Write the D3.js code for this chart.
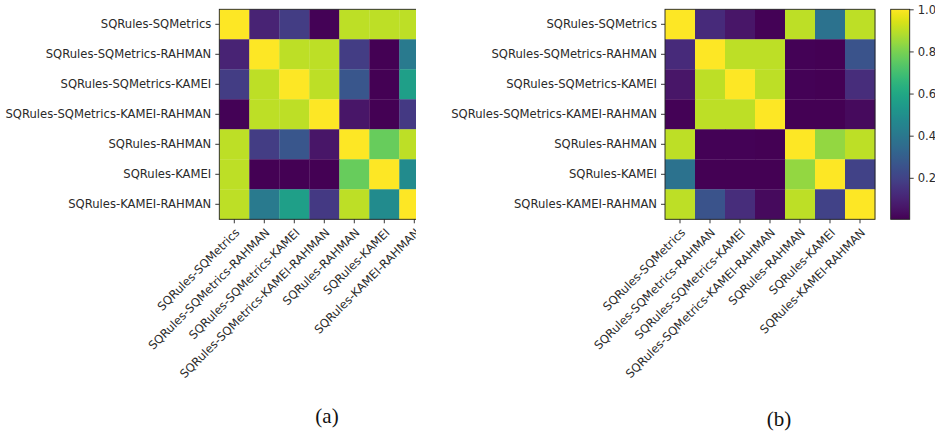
<!DOCTYPE html>
<html>
<head>
<meta charset="utf-8">
<script src="https://cdn.jsdelivr.net/npm/d3@7"></script>
<style>
  body { margin: 0; background: #fff; }
  text { font-family: "DejaVu Sans", sans-serif; }
</style>
</head>
<body>
<svg id="fig" width="935" height="434"></svg>
<script>
// Rule-set combinations compared in both matrices
const categories = [
  "SQRules-SQMetrics",
  "SQRules-SQMetrics-RAHMAN",
  "SQRules-SQMetrics-KAMEI",
  "SQRules-SQMetrics-KAMEI-RAHMAN",
  "SQRules-RAHMAN",
  "SQRules-KAMEI",
  "SQRules-KAMEI-RAHMAN"
];

// Pairwise similarity, panel (a)
const similarityA = [
  [1.00, 0.10, 0.18, 0.01, 0.90, 0.90, 0.90],
  [0.10, 1.00, 0.90, 0.90, 0.18, 0.003, 0.41],
  [0.18, 0.90, 1.00, 0.90, 0.27, 0.003, 0.56],
  [0.01, 0.90, 0.90, 1.00, 0.06, 0.003, 0.17],
  [0.90, 0.18, 0.27, 0.06, 1.00, 0.77, 0.90],
  [0.90, 0.003, 0.003, 0.003, 0.77, 1.00, 0.48],
  [0.90, 0.41, 0.56, 0.17, 0.90, 0.48, 1.00]
];

// Pairwise similarity, panel (b)
const similarityB = [
  [1.00, 0.12, 0.06, 0.01, 0.90, 0.38, 0.90],
  [0.12, 1.00, 0.90, 0.90, 0.01, 0.003, 0.26],
  [0.06, 0.90, 1.00, 0.90, 0.01, 0.003, 0.13],
  [0.01, 0.90, 0.90, 1.00, 0.003, 0.003, 0.03],
  [0.90, 0.01, 0.01, 0.003, 1.00, 0.84, 0.90],
  [0.38, 0.003, 0.003, 0.003, 0.84, 1.00, 0.20],
  [0.90, 0.26, 0.13, 0.03, 0.90, 0.20, 1.00]
];

const colorbarTicks = [0.2, 0.4, 0.6, 0.8, 1.0];
const captions = ["(a)", "(b)"];

const svg = d3.select("#fig");
const FONT = 11.6;
const cell = 30;
const gridTop = 9.3;

// left panel is cut at its right edge
const defs = svg.append("defs");
defs.append("clipPath").attr("id", "clipA")
  .append("rect").attr("x", 0).attr("y", 0).attr("width", 416).attr("height", 434);

function heatmap(g, data, x0) {
  const x = d3.scaleBand().domain(categories).range([x0, x0 + cell * categories.length]);
  const y = d3.scaleBand().domain(categories).range([gridTop, gridTop + cell * categories.length]);
  const flat = data.flat();
  const color = d3.scaleSequential(d3.interpolateViridis).domain([d3.min(flat), d3.max(flat)]);

  const cells = [];
  data.forEach((row, i) => row.forEach((v, j) => cells.push({ r: categories[i], c: categories[j], v })));

  g.append("g").selectAll("rect").data(cells).join("rect")
    .attr("x", d => x(d.c))
    .attr("y", d => y(d.r))
    .attr("width", x.bandwidth() + 0.3)
    .attr("height", y.bandwidth() + 0.3)
    .attr("fill", d => color(d.v));

  const [ya, yb] = y.range();
  const [xa, xb] = x.range();
  g.append("rect")
    .attr("x", xa).attr("y", ya).attr("width", xb - xa).attr("height", yb - ya)
    .attr("fill", "none").attr("stroke", "#222").attr("stroke-width", 0.9);

  const yAxis = g.append("g").attr("transform", `translate(${xa},0)`)
    .call(d3.axisLeft(y).tickSize(4).tickPadding(4).tickSizeOuter(0));
  yAxis.select(".domain").remove();
  yAxis.selectAll("line").attr("stroke", "#222").attr("stroke-width", 0.9);
  yAxis.selectAll("text").attr("font-size", FONT).attr("fill", "#2a2a2a")
    .attr("font-family", "DejaVu Sans, sans-serif");

  const xAxis = g.append("g").attr("transform", `translate(0,${yb})`)
    .call(d3.axisBottom(x).tickSize(4).tickSizeOuter(0));
  xAxis.select(".domain").remove();
  xAxis.selectAll("line").attr("stroke", "#222").attr("stroke-width", 0.9);
  xAxis.selectAll("text")
    .attr("font-size", FONT).attr("fill", "#2a2a2a")
    .attr("font-family", "DejaVu Sans, sans-serif")
    .attr("text-anchor", "end")
    .attr("y", null).attr("dy", null)
    .attr("transform", "translate(6,14) rotate(-45)");

  return color;
}

const gA = svg.append("g").attr("clip-path", "url(#clipA)");
heatmap(gA, similarityA, 219.3);

const gB = svg.append("g");
const colorB = heatmap(gB, similarityB, 665);

// colorbar for panel (b)
const cbX = 890.7, cbW = 19, cbTop = gridTop, cbBot = gridTop + cell * categories.length;
const [vmin, vmax] = colorB.domain();
const grad = defs.append("linearGradient")
  .attr("id", "cbGrad").attr("x1", 0).attr("y1", 1).attr("x2", 0).attr("y2", 0);
d3.range(0, 1.0001, 0.02).forEach(t => {
  grad.append("stop").attr("offset", t).attr("stop-color", d3.interpolateViridis(t));
});
svg.append("rect").attr("x", cbX).attr("y", cbTop).attr("width", cbW).attr("height", cbBot - cbTop)
  .attr("fill", "url(#cbGrad)").attr("stroke", "#222").attr("stroke-width", 0.9);

const cbScale = d3.scaleLinear().domain([vmin, vmax]).range([cbBot, cbTop]);
const cbAxis = svg.append("g").attr("transform", `translate(${cbX + cbW},0)`)
  .call(d3.axisRight(cbScale).tickValues(colorbarTicks).tickFormat(d3.format(".1f"))
    .tickSize(4).tickPadding(4).tickSizeOuter(0));
cbAxis.select(".domain").remove();
cbAxis.selectAll("line").attr("stroke", "#222").attr("stroke-width", 0.9);
cbAxis.selectAll("text").attr("font-size", FONT).attr("fill", "#2a2a2a")
  .attr("font-family", "DejaVu Sans, sans-serif");

// sub-figure captions
svg.selectAll("text.caption").data(captions).join("text")
  .attr("class", "caption")
  .attr("x", (d, i) => [327, 779][i])
  .attr("y", (d, i) => [423, 426][i])
  .attr("text-anchor", "middle")
  .attr("font-size", 21)
  .attr("fill", "#111")
  .style("font-family", "'Liberation Serif', serif")
  .text(d => d);
</script>
</body>
</html>
